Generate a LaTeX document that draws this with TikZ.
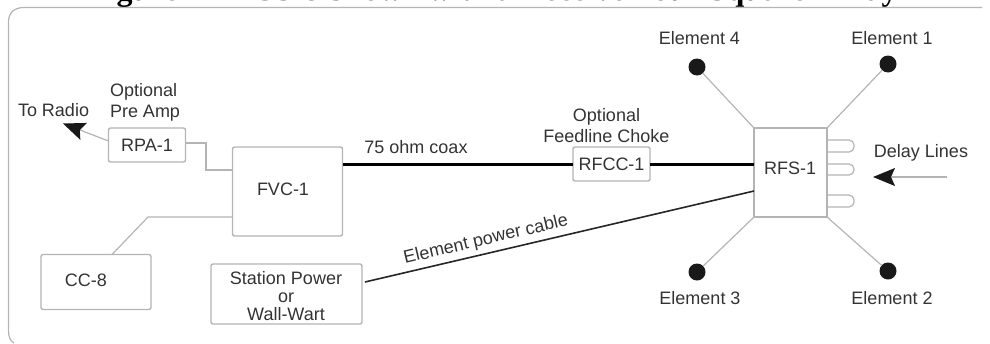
\documentclass[tikz,border=0pt]{standalone}
\usepackage{fontspec}
\setmainfont{Liberation Sans}
\newfontfamily\titlefont{Liberation Serif}
\usetikzlibrary{arrows.meta,calc}
\definecolor{ln}{HTML}{B4B4B4}
\definecolor{tx}{HTML}{333333}
\tikzset{
  x=1pt,y=-1pt,
  lbl/.style={text=tx,inner sep=0pt,outer sep=0pt,font=\fontsize{18}{21}\selectfont,align=center},
  boxn/.style={draw=ln,line width=1.4pt,rounded corners=2pt,inner sep=0pt,outer sep=0pt,text=tx,align=center,font=\fontsize{18}{21}\selectfont},
  wire/.style={draw=ln,line width=1.2pt},
  coax/.style={draw=black,line width=3pt},
  pwr/.style={draw=black!85,line width=1.6pt},
  elem/.style={circle,fill=black!90,draw=none,minimum size=17pt,inner sep=0pt,outer sep=0pt},
  head/.style={wire,-{Stealth[length=22pt,width=18pt,inset=4pt,black!90]}},
}
\begin{document}
\begin{tikzpicture}
\useasboundingbox (0,0) rectangle (990,343);
% title, cut by the picture's upper edge
\begin{scope}
\clip (0,0) rectangle (990,6.5);
\node[anchor=base,inner sep=0pt,font=\fontsize{32}{34}\selectfont\titlefont\bfseries] (title) at (493,0.5) {Figure 1 - RCS-8 Shown with a Receive Four Square Array};
\end{scope}
% frame
\draw[draw=ln,line width=1.2pt] (982,7.5) -- (24,7.5) .. controls (14,7.5) and (8.5,13) .. (8.5,22) -- (8.5,330) .. controls (8.5,337) and (10,341) .. (14,343);
% boxes
\node[boxn,minimum width=77pt,minimum height=34pt] (RPA) at (147,145) {RPA-1};
\node[boxn,minimum width=110pt,minimum height=89pt] (FVC) at (287.5,191.5) {};
\node[lbl] (FVCt) at (283,189) {FVC-1};
\node[boxn,minimum width=110pt,minimum height=55pt] (CC) at (96,282) {};
\node[lbl] (CCt) at (86,280) {CC-8};
\node[boxn,minimum width=151pt,minimum height=60pt] (PWR) at (286.5,294) {};
\node[lbl,font=\fontsize{18}{18}\selectfont] (PWRt) at (286,296) {Station Power\\or\\Wall-Wart};
\node[boxn,minimum width=77pt,minimum height=34pt] (RFCC) at (611.5,164) {RFCC-1};
\node[boxn,rounded corners=0pt,minimum width=73pt,minimum height=89pt] (RFS) at (790.5,172.5) {};
\node[lbl] (RFSt) at (790,168.5) {RFS-1};
% element dots
\node[elem] (E4) at (697,67) {};
\node[elem] (E1) at (888,64) {};
\node[elem] (E3) at (697,272) {};
\node[elem] (E2) at (888,271) {};
\draw[wire] (E4) -- (RFS.north west);
\draw[wire] (E1) -- (RFS.north east);
\draw[wire] (E3) -- (RFS.south west);
\draw[wire] (E2) -- (RFS.south east);
% labels
\node[lbl] (L4) at (699.5,38) {Element 4};
\node[lbl] (L1) at (892,38) {Element 1};
\node[lbl] (L3) at (700,298) {Element 3};
\node[lbl] (L2) at (892,298) {Element 2};
\node[lbl,anchor=west] (TR) at (18,110) {To Radio};
\node[lbl,align=left,anchor=west] (PA) at (110,102.5) {Optional\\Pre Amp};
\node[lbl] (FC) at (606.5,125.5) {Optional\\Feedline Choke};
\node[lbl] (CX) at (416,147) {75 ohm coax};
\node[lbl] (DL) at (921,153) {Delay Lines};
\node[lbl,rotate=13.2] (EP) at (486,240) {Element power cable};
% connectors
\coordinate (RT) at (63,123.5);
\draw[head] (RPA.west) ++(0,-4) coordinate (RPAw) -- (RT);
\draw[wire] (RPA.east) ++(0,-2) -- ++(20.5,0) |- ($(FVC.west)+(0,-21.5)$);
\draw[wire] ($(FVC.west)+(0,25.5)$) -- (148,217) -- ($(CC.north)+(16,0)$);
\draw[coax] (FVC.east |- RFCC.west) -- (RFCC.west);
\draw[coax] (RFCC.east) -- (RFS.west |- RFCC.east);
\coordinate (PWa) at (365,282);
\draw[pwr] (PWa) -- ($(RFS.west)+(0,18.5)$);
% delay lines
\foreach \ya/\yb in {140/152,164/175,195/207}{
  \draw[wire,rounded corners=5pt] (827,\ya) -- (854,\ya) -- (854,\yb) -- (827,\yb);
}
\coordinate (DLs) at (947,177);
\coordinate (DLe) at (873,177);
\draw[head] (DLs) -- (DLe);
\end{tikzpicture}
\end{document}
